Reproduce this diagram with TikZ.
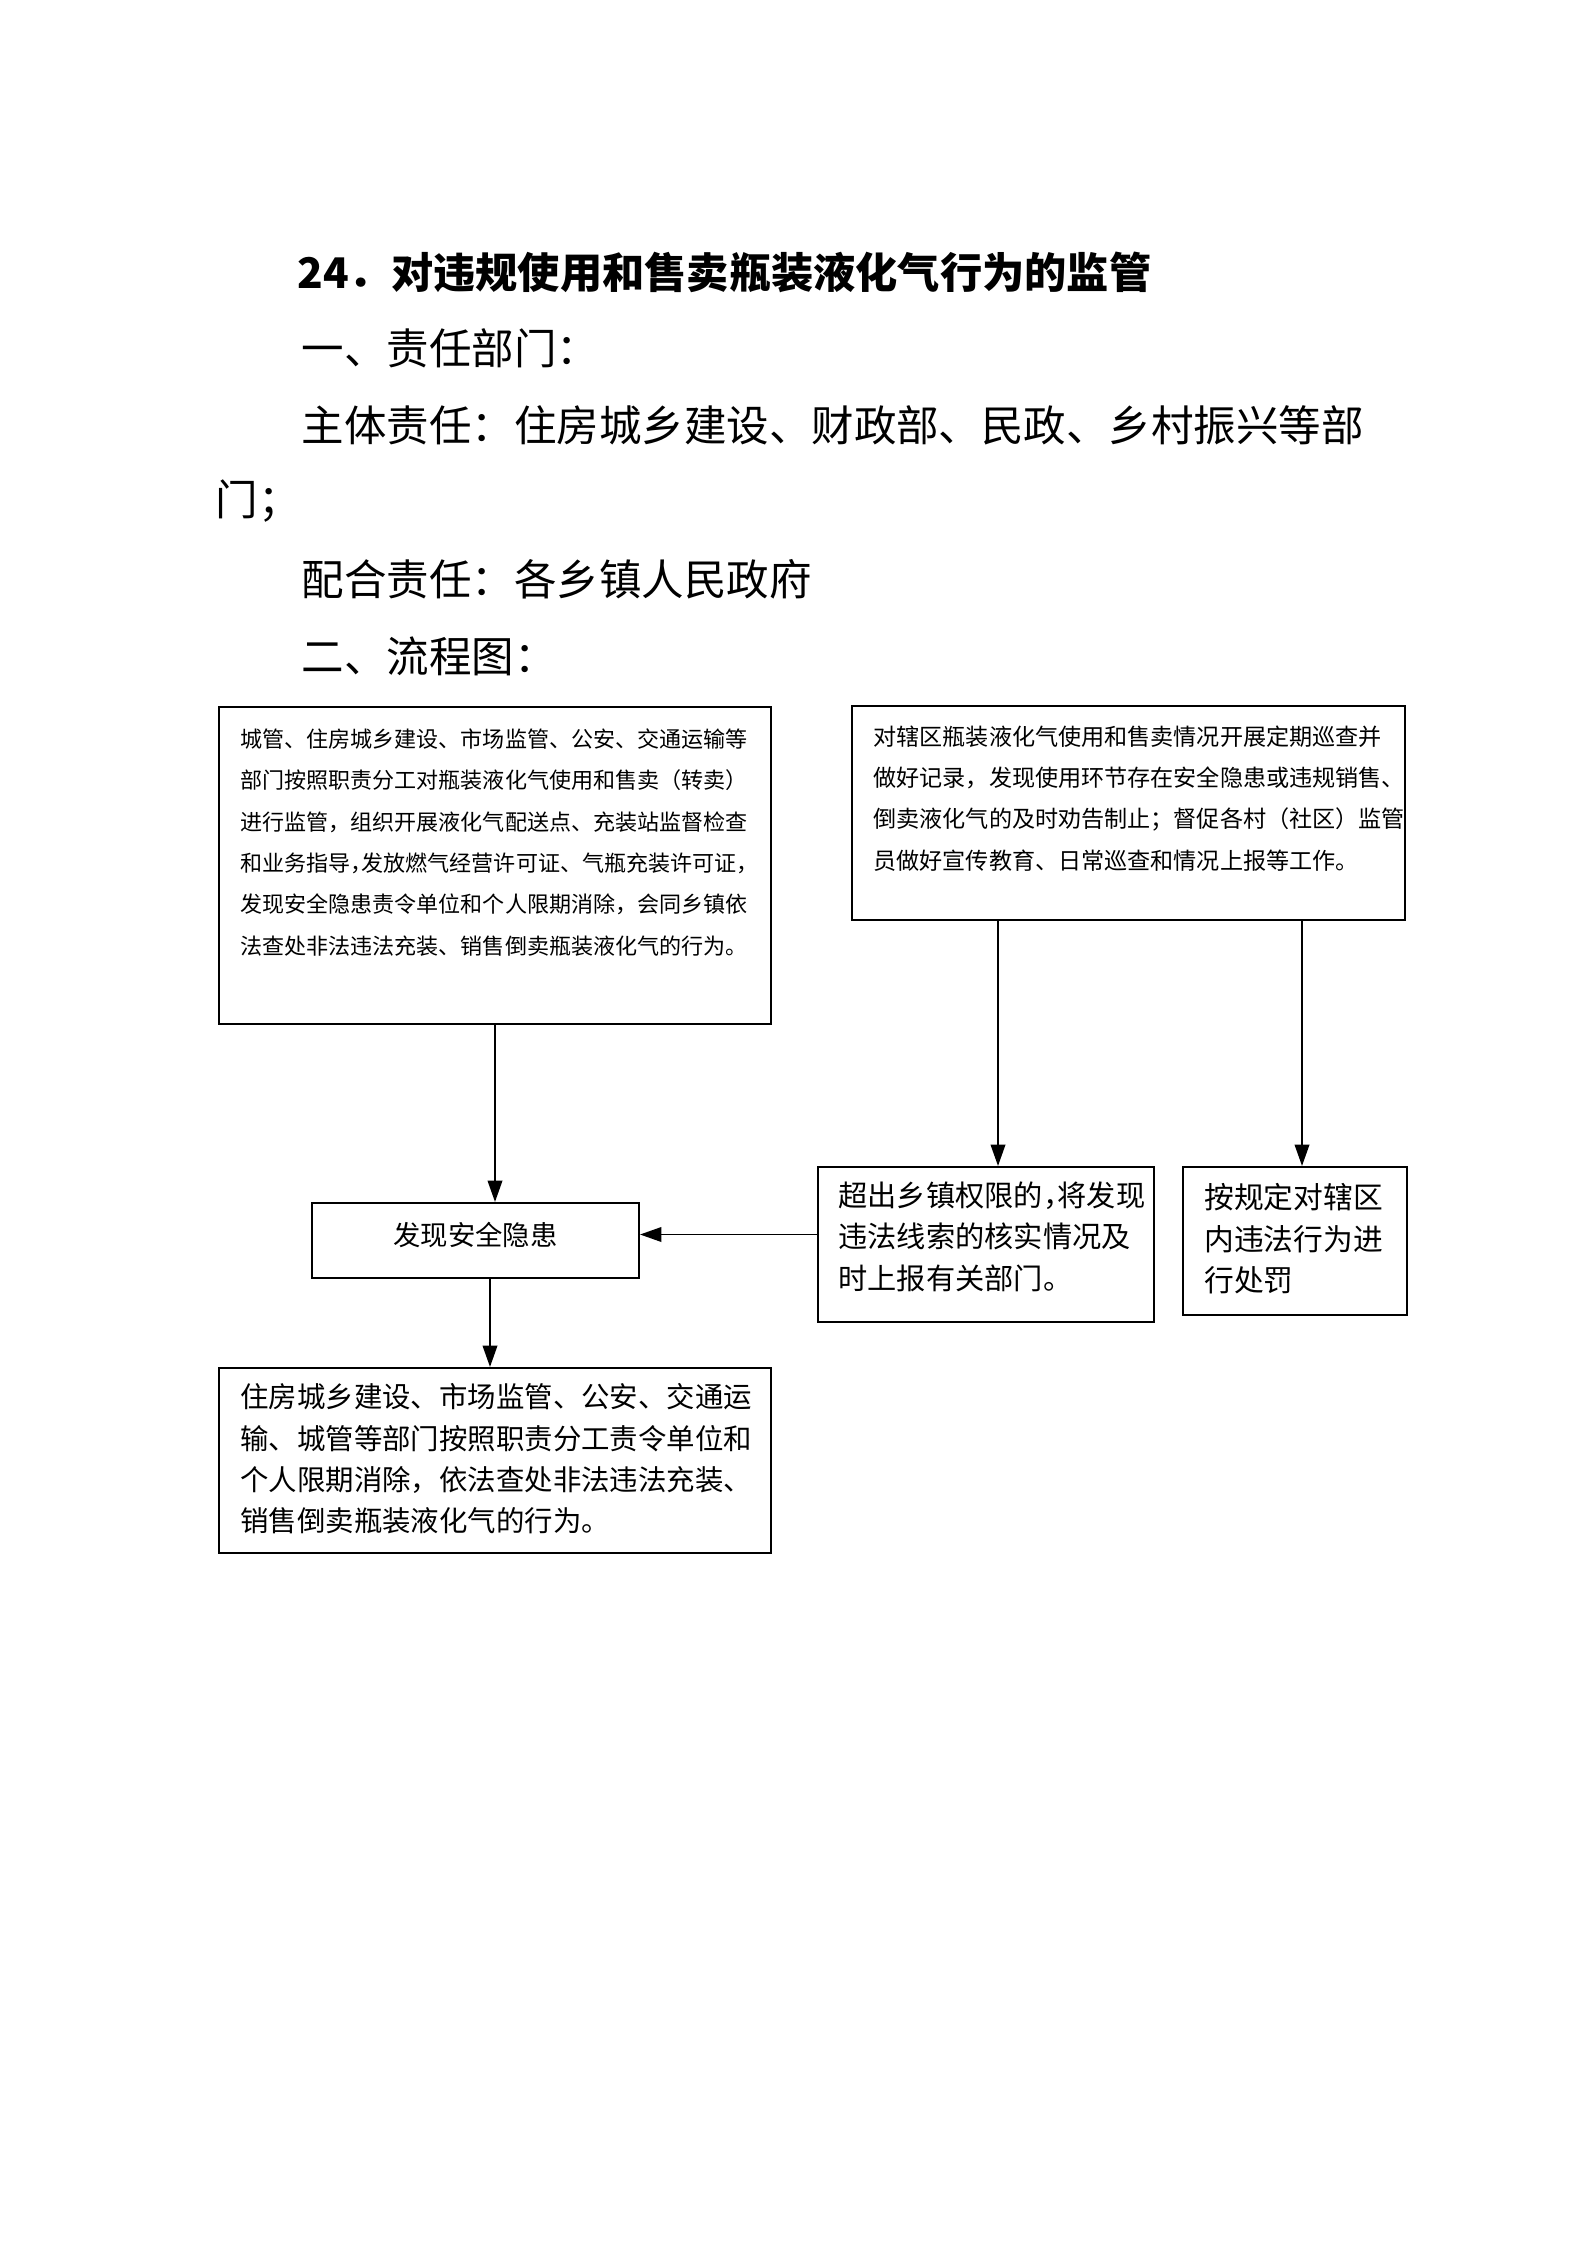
\documentclass[tikz,border=0pt]{standalone}
\usepackage{fontspec}
\usepackage{tikz}
\usetikzlibrary{arrows.meta,fit}
\newfontfamily\cjk{Noto Sans CJK SC}
\newcommand\hcomma{\makebox[0.5em][l]{，}}

\begin{document}
\begin{tikzpicture}[x=0.13233mm, y=-0.13233mm, >={Triangle[length=8pt,width=5.5pt]},
  box/.style={draw, line width=0.8pt, inner sep=0pt},
  boxtext/.style={anchor=north west, inner sep=0pt, align=left},
  head/.style={anchor=west, inner sep=0pt, font=\cjk\fontsize{16pt}{20pt}\selectfont},
  flow/.style={->, line width=0.6pt}]
\useasboundingbox (0,0) rectangle (1587,2245);

% header
\node[head, font=\cjk\bfseries\fontsize{15.9pt}{18pt}\selectfont] (title) at (297,272) {24．对违规使用和售卖瓶装液化气行为的监管};
\node[head] (dept) at (301,348) {一、责任部门：};
\node[head] (main) at (301,425) {主体责任：住房城乡建设、财政部、民政、乡村振兴等部};
\node[head] (mainend) at (215,501) {门；};
\node[head] (coop) at (301,579) {配合责任：各乡镇人民政府};
\node[head] (chart) at (301,656) {二、流程图：};

% boxes
\node[box, fit={(219,707) (771,1024)}] (city) {};
\node[box, fit={(852,706) (1405,920)}] (patrol) {};
\node[box, fit={(312,1203) (639,1278)}] (hazard) {};
\node[box, fit={(818,1167) (1154,1322)}] (report) {};
\node[box, fit={(1183,1167) (1407,1315)}] (punish) {};
\node[box, fit={(219,1368) (771,1553)}] (handle) {};

% box texts
\node[boxtext, font=\cjk\fontsize{8.3pt}{15.6pt}\selectfont] (citytext) at ([shift={(22,22)}]city.north west)
  {城管、住房城乡建设、市场监管、公安、交通运输等\\
   部门按照职责分工对瓶装液化气使用和售卖（转卖）\\
   进行监管，组织开展液化气配送点、充装站监督检查\\
   和业务指导\hcomma 发放燃气经营许可证、气瓶充装许可证，\\
   发现安全隐患责令单位和个人限期消除，会同乡镇依\\
   法查处非法违法充装、销售倒卖瓶装液化气的行为。};
\node[boxtext, font=\cjk\fontsize{8.7pt}{15.6pt}\selectfont] (patroltext) at ([shift={(22,20)}]patrol.north west)
  {对辖区瓶装液化气使用和售卖情况开展定期巡查并\\
   做好记录，发现使用环节存在安全隐患或违规销售、\\
   倒卖液化气的及时劝告制止；督促各村（社区）监管\\
   员做好宣传教育、日常巡查和情况上报等工作。};
\node[font=\cjk\fontsize{10.3pt}{12pt}\selectfont, inner sep=0pt] (hazardtext) at ([shift={(0,-6)}]hazard.center) {发现安全隐患};
\node[boxtext, font=\cjk\fontsize{11pt}{15.6pt}\selectfont] (reporttext) at ([shift={(21,15)}]report.north west)
  {超出乡镇权限的\hcomma 将发现\\
   违法线索的核实情况及\\
   时上报有关部门。};
\node[boxtext, font=\cjk\fontsize{11.2pt}{15.6pt}\selectfont] (punishtext) at ([shift={(22,17)}]punish.north west)
  {按规定对辖区\\
   内违法行为进\\
   行处罚};
\node[boxtext, font=\cjk\fontsize{10.7pt}{15.6pt}\selectfont] (handletext) at ([shift={(22,16)}]handle.north west)
  {住房城乡建设、市场监管、公安、交通运\\
   输、城管等部门按照职责分工责令单位和\\
   个人限期消除，依法查处非法违法充装、\\
   销售倒卖瓶装液化气的行为。};

% arrows
\coordinate (reporttop) at ([shift={(12,0)}]report.north);
\coordinate (punishtop) at ([shift={(7,0)}]punish.north);
\coordinate (hazardin) at ([shift={(0,-6)}]hazard.east);
\coordinate (handletop) at ([shift={(-5,0)}]handle.north);
\draw[flow] (city.south) -- (city.south |- hazard.north);
\draw[flow] (patrol.south -| reporttop) -- (reporttop);
\draw[flow] (patrol.south -| punishtop) -- (punishtop);
\draw[flow] (report.west |- hazardin) -- (hazardin);
\draw[flow] (hazard.south -| handletop) -- (handletop);
\end{tikzpicture}
\end{document}
